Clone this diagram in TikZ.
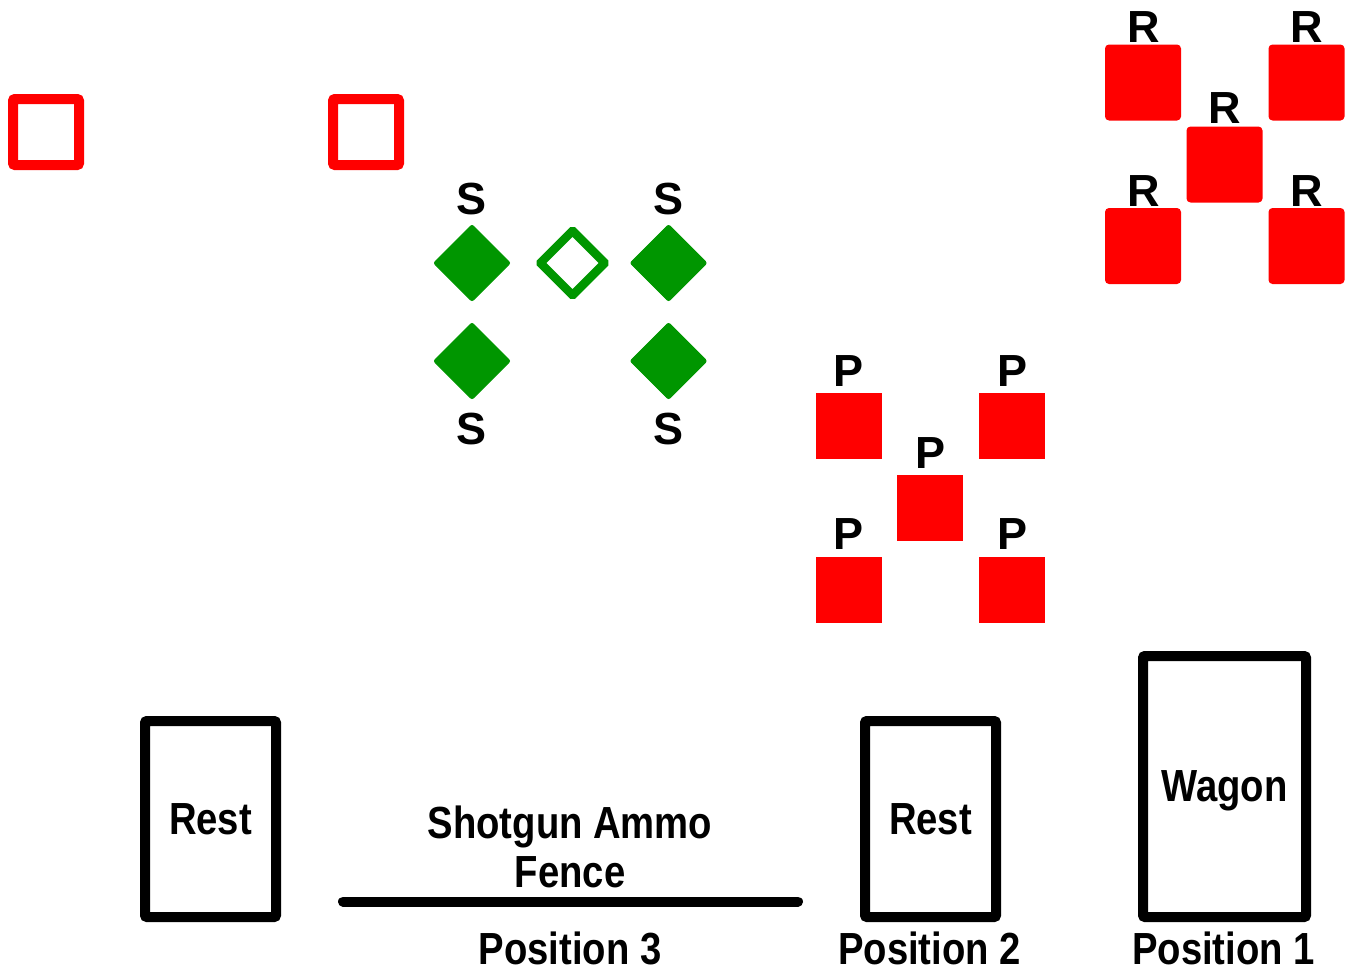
\documentclass[tikz,border=0pt]{standalone}
\usepackage{fontspec}
\setmainfont{Liberation Sans}
\newfontfamily\condfont[FakeStretch=0.85]{Liberation Sans}
\usetikzlibrary{shapes.geometric}
\definecolor{myred}{RGB}{255,0,0}
\definecolor{mygreen}{RGB}{0,150,0}
\tikzset{
  lab/.style={font=\fontsize{45}{50}\selectfont\bfseries, inner sep=0pt, anchor=base},
  blab/.style={font=\condfont\fontsize{45}{50}\selectfont\bfseries, inner sep=0pt},
  opensq/.style={draw=myred, line width=10pt, rounded corners=2pt, minimum size=66pt, inner sep=0pt},
  psq/.style={fill=myred, minimum size=66pt, inner sep=0pt},
  rsq/.style={fill=myred, rounded corners=4pt, minimum size=76pt, inner sep=0pt},
  fdia/.style={diamond, fill=mygreen, draw=mygreen, line width=1pt, rounded corners=2pt, minimum size=77pt, inner sep=0pt},
  odia/.style={diamond, draw=mygreen, line width=8.5pt, rounded corners=1pt, minimum size=68pt, inner sep=0pt},
  pbox/.style={draw=black, line width=10pt, rounded corners=2pt, inner sep=0pt, text depth=0pt},
}
\begin{document}
\begin{tikzpicture}[x=1pt,y=-1pt]
\useasboundingbox (0,0) rectangle (1348,970);
% open red squares
\node[opensq] (os1) at (46,132) {};
\node[opensq] (os2) at (366,132) {};
% green diamonds
\node[fdia] (s1) at (472,263) {};
\node[fdia] (s2) at (668.5,263) {};
\node[fdia] (s3) at (472,361) {};
\node[fdia] (s4) at (668.5,361) {};
\node[odia] (so) at (572.5,263) {};
\node[lab] (s1l) at (472,214) {S};
\node[lab] (s2l) at (668.5,214) {S};
\node[lab] (s3l) at (472,444) {S};
\node[lab] (s4l) at (668.5,444) {S};
% P squares
\node[psq] (p1) at (848.5,426) {};
\node[psq] (p2) at (1012,426) {};
\node[psq] (p3) at (930,508) {};
\node[psq] (p4) at (848.5,590) {};
\node[psq] (p5) at (1012,590) {};
\node[lab] (p1l) at (848.5,386) {P};
\node[lab] (p2l) at (1012,386) {P};
\node[lab] (p3l) at (930,468) {P};
\node[lab] (p4l) at (848.5,549) {P};
\node[lab] (p5l) at (1012,549) {P};
% R squares
\node[rsq] (r1) at (1143,82.5) {};
\node[rsq] (r2) at (1306.5,82.5) {};
\node[rsq] (r3) at (1224.5,164.5) {};
\node[rsq] (r4) at (1143,246) {};
\node[rsq] (r5) at (1306.5,246) {};
\node[lab] (r1l) at (1143.5,42) {R};
\node[lab] (r2l) at (1307,42) {R};
\node[lab] (r3l) at (1225,123) {R};
\node[lab] (r4l) at (1143.5,206) {R};
\node[lab] (r5l) at (1307,206) {R};
% bottom boxes
\node[pbox, blab, minimum width=131pt, minimum height=196pt] (rest1) at (210.5,819) {Rest};
\node[pbox, blab, minimum width=131pt, minimum height=196pt] (rest2) at (930.5,819) {Rest};
\node[pbox, blab, minimum width=163pt, minimum height=261pt] (wagon) at (1224.5,786.5) {Wagon};
% fence
\coordinate (fenceL) at (343,901.5);
\coordinate (fenceR) at (798,901.5);
\draw[line width=10pt, line cap=round] (fenceL) -- (fenceR);
\node[blab, anchor=base] (fence1) at (570,838) {Shotgun Ammo};
\node[blab, anchor=base] (fence2) at (570,887) {Fence};
% positions
\node[blab, anchor=base] (pos3) at (570,964) {Position 3};
\node[blab, anchor=base] (pos2) at (929.5,964) {Position 2};
\node[blab, anchor=base] (pos1) at (1223.5,964) {Position 1};
\end{tikzpicture}
\end{document}
